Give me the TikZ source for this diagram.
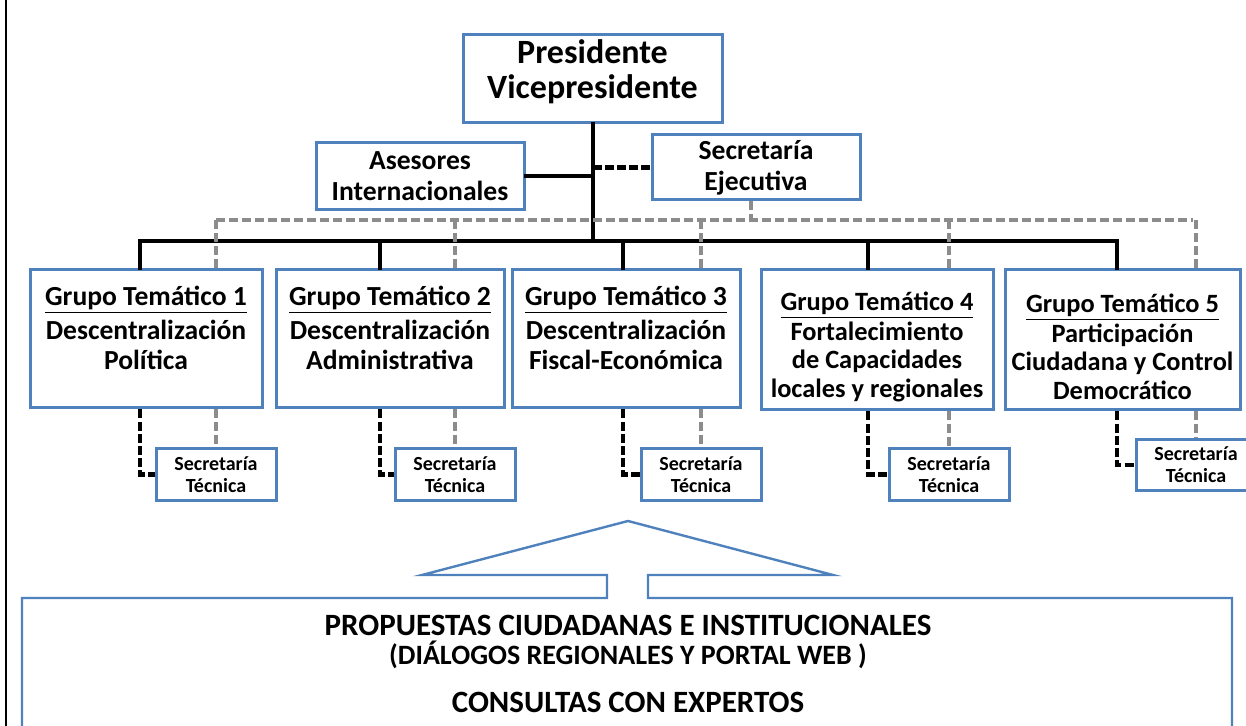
\documentclass[tikz,border=0pt]{standalone}
\usepackage{fontspec}
\setmainfont{Carlito}
\usetikzlibrary{positioning}

\definecolor{boxblue}{HTML}{4F81BD}
\definecolor{linkgray}{HTML}{8C8C8C}

\tikzset{
    orgbox/.style={draw=boxblue, line width=1.5pt, fill=white, align=center, inner sep=0pt},
    toptext/.style={font=\bfseries\fontsize{17}{17.5}\selectfont},
    midtext/.style={font=\bfseries\fontsize{13.8}{15.5}\selectfont},
    grouptext/.style={font=\bfseries\fontsize{13.8}{15}\selectfont},
    grouptextsmall/.style={font=\bfseries\fontsize{13.2}{14.2}\selectfont},
    sttext/.style={font=\bfseries\fontsize{10}{11}\selectfont},
    proptext/.style={font=\bfseries\fontsize{15.5}{16}\selectfont},
    mainline/.style={line width=2pt, line cap=rect},
    staffline/.style={line width=2.2pt, dash pattern=on 4.5pt off 1.6pt},
    coordline/.style={draw=linkgray, line width=1.7pt, dash pattern=on 4.5pt off 2pt},
    outline/.style={draw=boxblue, line width=1.2pt}
}

\begin{document}
\begin{tikzpicture}[x=0.5pt,y=-0.5pt]

    \clip (0,0) rectangle (1246,726);

    % Page edge
    \draw[line width=1pt] (6,0) -- (6,726);

    % Top level
    \node[orgbox, toptext, minimum width=129.5pt, minimum height=44pt] (pres) at (592.5,79) {Presidente\\Vicepresidente\\[-7.5pt]\mbox{}};
    \node[orgbox, midtext, minimum width=104pt, minimum height=33.5pt] (ases) at (420,176.5) {Asesores\\Internacionales};
    \node[orgbox, midtext, minimum width=104pt, minimum height=32.5pt] (sece) at (756,167.5) {Secretaría\\Ejecutiva};

    % Thematic groups
    \node[orgbox, grouptext, minimum width=116pt, minimum height=69pt] (g1) at (146,339)
        {\underline{Grupo Temático 1}\\[2pt]Descentralización\\Política\\[-4pt]\mbox{}};
    \node[orgbox, grouptext, minimum width=114pt, minimum height=69pt] (g2) at (390,339)
        {\underline{Grupo Temático 2}\\[2pt]Descentralización\\Administrativa\\[-4pt]\mbox{}};
    \node[orgbox, grouptext, minimum width=114pt, minimum height=69pt] (g3) at (626,339)
        {\underline{Grupo Temático 3}\\[2pt]Descentralización\\Fiscal-Económica\\[-4pt]\mbox{}};
    \node[orgbox, grouptextsmall, minimum width=116pt, minimum height=70pt] (g4) at (877,340)
        {\mbox{}\\[1.8pt]\underline{Grupo Temático 4}\\[0.8pt]Fortalecimiento\\de Capacidades\\locales y regionales};
    \node[orgbox, grouptextsmall, minimum width=117.5pt, minimum height=70pt] (g5) at (1122.5,340)
        {\mbox{}\\[1.8pt]\underline{Grupo Temático 5}\\[0.8pt]Participación\\Ciudadana y Control\\Democrático};

    % Technical secretariats
    \foreach \g/\sx/\sy in {1/216/474.5, 2/455/474.5, 3/701/474.5, 4/949/474.5, 5/1196/465}
        \node[orgbox, sttext, minimum width=60pt, minimum height=25.5pt] (st\g) at (\sx,\sy) {Secretaría\\Técnica};

    % Hierarchy lines
    \coordinate (busl) at (140,241);
    \coordinate (busr) at (1117,241);
    \draw[mainline] (pres.south) -- (pres.south |- busl);
    \draw[mainline] (busl) -- (busr);
    \draw[mainline] (ases.east) -- (ases.east -| pres.south);
    \draw[staffline] (sece.west -| pres.south) -- (sece.west);

    \foreach \g/\bx in {1/140, 2/380, 3/623, 4/868, 5/1117}
    {
        \coordinate (drop\g) at (\bx,241);
        \draw[mainline] (drop\g) -- (g\g.north -| drop\g);
        \draw[staffline] (g\g.south -| drop\g) |- (st\g.west);
    }

    % Coordination lines
    \coordinate (grl) at (216,220);
    \coordinate (grr) at (1193,220);
    \coordinate (segap) at (751,220);
    \draw[coordline] (sece.south -| segap) -- (segap);
    \draw[coordline] (grl) -- (grr);
    \foreach \g in {1,...,5}
    {
        \draw[coordline] (st\g.north |- grl) -- (st\g.north |- g\g.north);
        \draw[coordline] (g\g.south -| st\g.north) -- (st\g.north);
    }

    % Proposals block with arrow
    \draw[outline] (22,740) -- (22,598) -- (607,598) -- (607,575) -- (422,575) -- (628,521)
        -- (833,575) -- (648,575) -- (648,598) -- (1232,598) -- (1232,740);
    \node[proptext] (prop1) at (628,625) {PROPUESTAS CIUDADANAS E INSTITUCIONALES};
    \node[proptext, font=\bfseries\fontsize{14}{15}\selectfont] (prop2) at (628,655) {(DIÁLOGOS REGIONALES Y PORTAL WEB )};
    \node[proptext] (prop3) at (628,702) {CONSULTAS CON EXPERTOS};

\end{tikzpicture}
\end{document}
